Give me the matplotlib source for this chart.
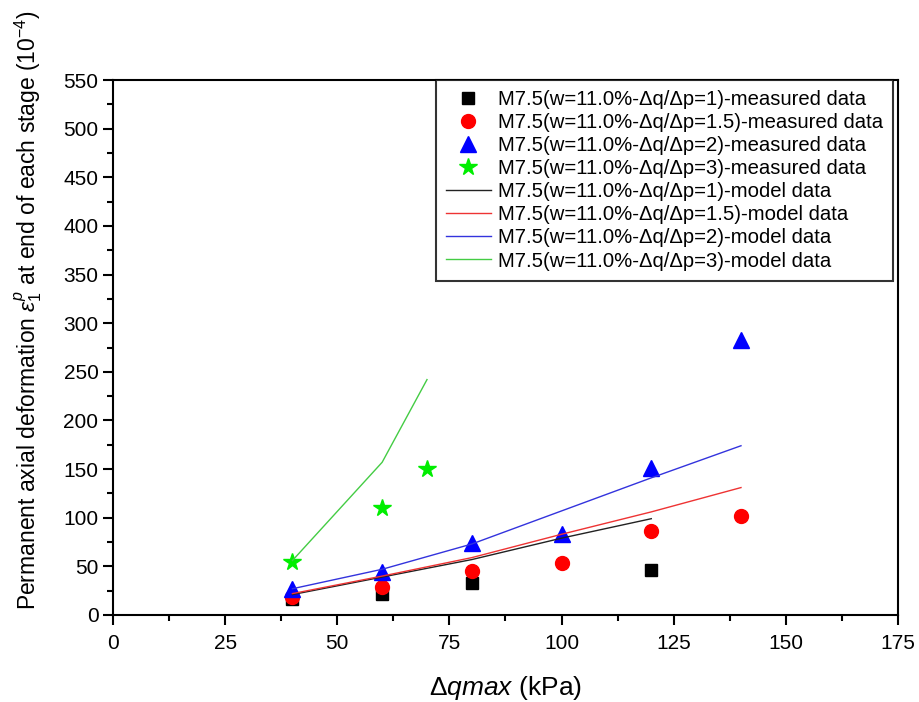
import matplotlib.pyplot as plt
from matplotlib.ticker import MultipleLocator

plt.rcParams['font.family'] = ['Liberation Sans', 'DejaVu Sans']
plt.rcParams['mathtext.fontset'] = 'custom'
plt.rcParams['mathtext.rm'] = 'Liberation Sans'
plt.rcParams['mathtext.it'] = 'Liberation Sans:italic'

# measured data (x in kPa, y in 1e-4)
x1 = [40, 60, 80, 120]
y1 = [16, 22, 33, 46]
x15 = [40, 60, 80, 100, 120, 140]
y15 = [19, 29, 45, 53, 86, 102]
x2 = [40, 60, 80, 100, 120, 140]
y2 = [27, 44, 74, 83, 151, 283]
x3 = [40, 60, 70]
y3 = [54, 110, 150]

# model data
mx1 = [40, 60, 80, 100, 120]
my1 = [21, 39, 57, 79, 99]
mx15 = [40, 60, 80, 100, 120, 140]
my15 = [22, 40, 59, 83, 106, 131]
mx2 = [40, 60, 80, 100, 120, 140]
my2 = [27, 47, 73, 107, 141, 174]
mx3 = [40, 60, 70]
my3 = [56, 157, 242]

lab = 'M7.5(w=11.0%-\u0394q/\u0394p={})-{} data'

fig = plt.figure(figsize=(9.2, 7.02), dpi=100)
ax = fig.add_axes([113/920, 1 - 615/702, (898-113)/920, (615-80)/702])

ax.plot(x1, y1, 's', color='black', ms=8.5, ls='none', label=lab.format('1', 'measured'))
ax.plot(x15, y15, 'o', color='red', ms=10, ls='none', label=lab.format('1.5', 'measured'))
ax.plot(x2, y2, '^', color='blue', ms=11, ls='none', label=lab.format('2', 'measured'))
ax.plot(x3, y3, '*', color='#00ee00', ms=13, ls='none', label=lab.format('3', 'measured'))

ax.plot(mx1, my1, '-', color='#222222', lw=1, label=lab.format('1', 'model'))
ax.plot(mx15, my15, '-', color='#ee3333', lw=1, label=lab.format('1.5', 'model'))
ax.plot(mx2, my2, '-', color='#3333dd', lw=1, label=lab.format('2', 'model'))
ax.plot(mx3, my3, '-', color='#44cc44', lw=1, label=lab.format('3', 'model'))

ax.set_xlim(0, 175)
ax.set_ylim(0, 550)
ax.xaxis.set_major_locator(MultipleLocator(25))
ax.xaxis.set_minor_locator(MultipleLocator(12.5))
ax.yaxis.set_major_locator(MultipleLocator(50))
ax.yaxis.set_minor_locator(MultipleLocator(25))
ax.tick_params(which='major', direction='out', length=7, width=1.5, labelsize=15)
ax.tick_params(axis='x', which='major', pad=7)
ax.tick_params(which='minor', direction='out', length=4, width=1.5)
for s in ax.spines.values():
    s.set_linewidth(1.5)

ax.set_xlabel(r'$\Delta$$\it{qmax}$ (kPa)', fontsize=19)
ax.xaxis.set_label_coords(0.5, -(688 - 615) / 535, transform=ax.transAxes)
ax.xaxis.label.set_va('center')
ax.set_ylabel(r'Permanent axial deformation $\it{\varepsilon}_{1}^{p}$ at end of each stage (10$^{-4}$)',
              fontsize=16.5)
ax.yaxis.set_label_coords(-(113 - 28) / 785, (615 - 310) / 535, transform=ax.transAxes)
ax.yaxis.label.set_va('center')

leg = ax.legend(loc='upper right', bbox_to_anchor=(893 / 785 - 113 / 785, 1.0),
                fontsize=14.6, frameon=True, fancybox=False, borderaxespad=0,
                handlelength=2.2, handletextpad=0.35, labelspacing=0.2, borderpad=0.5)
leg.get_frame().set_edgecolor('black')
leg.get_frame().set_linewidth(1.5)

plt.savefig('out.png', dpi=100)
